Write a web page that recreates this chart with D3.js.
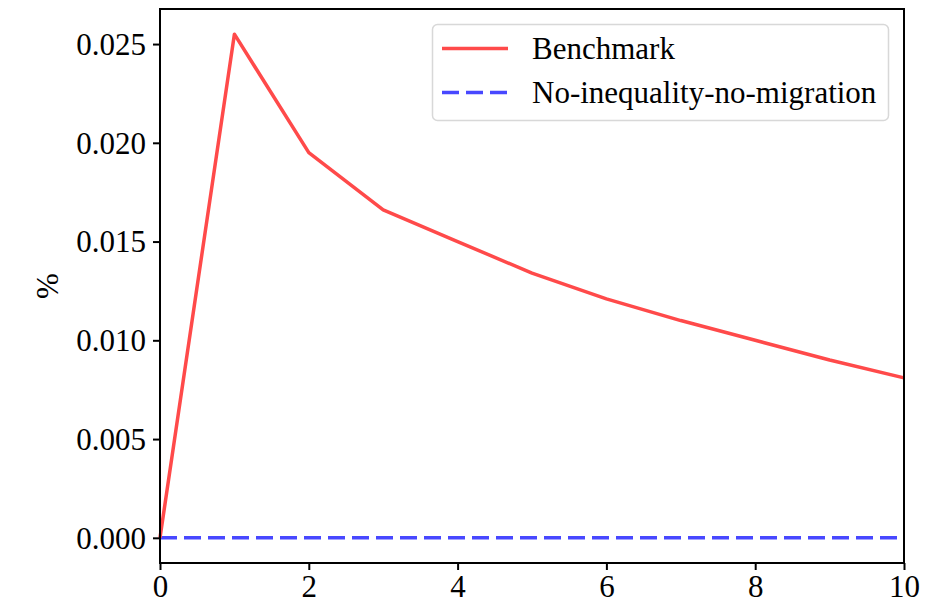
<!DOCTYPE html>
<html><head><meta charset="utf-8">
<script src="https://cdn.jsdelivr.net/npm/d3@7"></script>
<style>
html,body{margin:0;padding:0;background:#fff;}
svg text{font-family:"Liberation Serif","Times New Roman",serif;fill:#000;}
</style></head>
<body>
<svg id="chart" width="942" height="606"></svg>
<script>
const periods = [0,1,2,3,4,5,6,7,8,9,10];
const benchmark = [0, 0.0255, 0.0195, 0.0166, 0.0150, 0.0134, 0.0121, 0.0110, 0.0100, 0.0090, 0.0081];
const noInequality = [0,0,0,0,0,0,0,0,0,0,0];
const xTicks = [0,2,4,6,8,10];
const yTicks = [0,0.005,0.010,0.015,0.020,0.025];
const seriesNames = ["Benchmark","No-inequality-no-migration"];

const svg = d3.select("#chart");
const L=160, R=904, T=9, B=563;
const fs = 31;
const x = d3.scaleLinear().domain([0,10]).range([L,R]);
const y = d3.scaleLinear().domain([-0.001275,0.026775]).range([B,T]);

const line = d3.line().x((d,i)=>x(periods[i])).y(d=>y(d));

svg.append("path").datum(noInequality).attr("d",line)
  .attr("fill","none").attr("stroke","#4848ff").attr("stroke-width",3.5)
  .attr("stroke-dasharray","17,7");
svg.append("path").datum(benchmark).attr("d",line)
  .attr("fill","none").attr("stroke","#ff4a4a").attr("stroke-width",3.5)
  .attr("stroke-linejoin","round");

// axes
const xAxis = svg.append("g").attr("transform",`translate(0,${B})`)
  .call(d3.axisBottom(x).tickValues(xTicks).tickFormat(d3.format("d")).tickSize(7).tickPadding(5));
const yAxis = svg.append("g").attr("transform",`translate(${L},0)`)
  .call(d3.axisLeft(y).tickValues(yTicks).tickFormat(d3.format(".3f")).tickSize(7).tickPadding(7));
[xAxis,yAxis].forEach(g=>{
  g.select(".domain").remove();
  g.selectAll(".tick line").attr("stroke","#000").attr("stroke-width",2);
  g.selectAll(".tick text").attr("font-size",fs).attr("font-family","Liberation Serif");
});
xAxis.selectAll(".tick text").attr("dy","0.72em");
yAxis.selectAll(".tick text").attr("dy","0.33em");

// frame
svg.append("rect").attr("x",L).attr("y",T).attr("width",R-L).attr("height",B-T)
  .attr("fill","none").attr("stroke","#000").attr("stroke-width",2);

// y label
svg.append("text").attr("transform",`translate(58,${(T+B)/2}) rotate(-90)`)
  .attr("text-anchor","middle").attr("font-size",fs).text("%");

// legend
const lg = svg.append("g");
lg.append("rect").attr("x",432.5).attr("y",24.5).attr("width",456).attr("height",96)
  .attr("rx",5).attr("fill","#fff").attr("fill-opacity",0.8).attr("stroke","#d8d8d8").attr("stroke-width",1.5);
const items=[{c:"#ff4a4a",dash:null,w:3.5},{c:"#4848ff",dash:"17,7",w:3.5}];
items.forEach((it,i)=>{
  const yy = 48.5 + i*44;
  const l = lg.append("line").attr("x1",442).attr("x2",508).attr("y1",yy).attr("y2",yy)
    .attr("stroke",it.c).attr("stroke-width",it.w);
  if(it.dash) l.attr("stroke-dasharray",it.dash);
  lg.append("text").attr("x",532).attr("y",yy).attr("dy","0.35em").attr("font-size",fs).text(seriesNames[i]);
});
</script>
</body></html>
